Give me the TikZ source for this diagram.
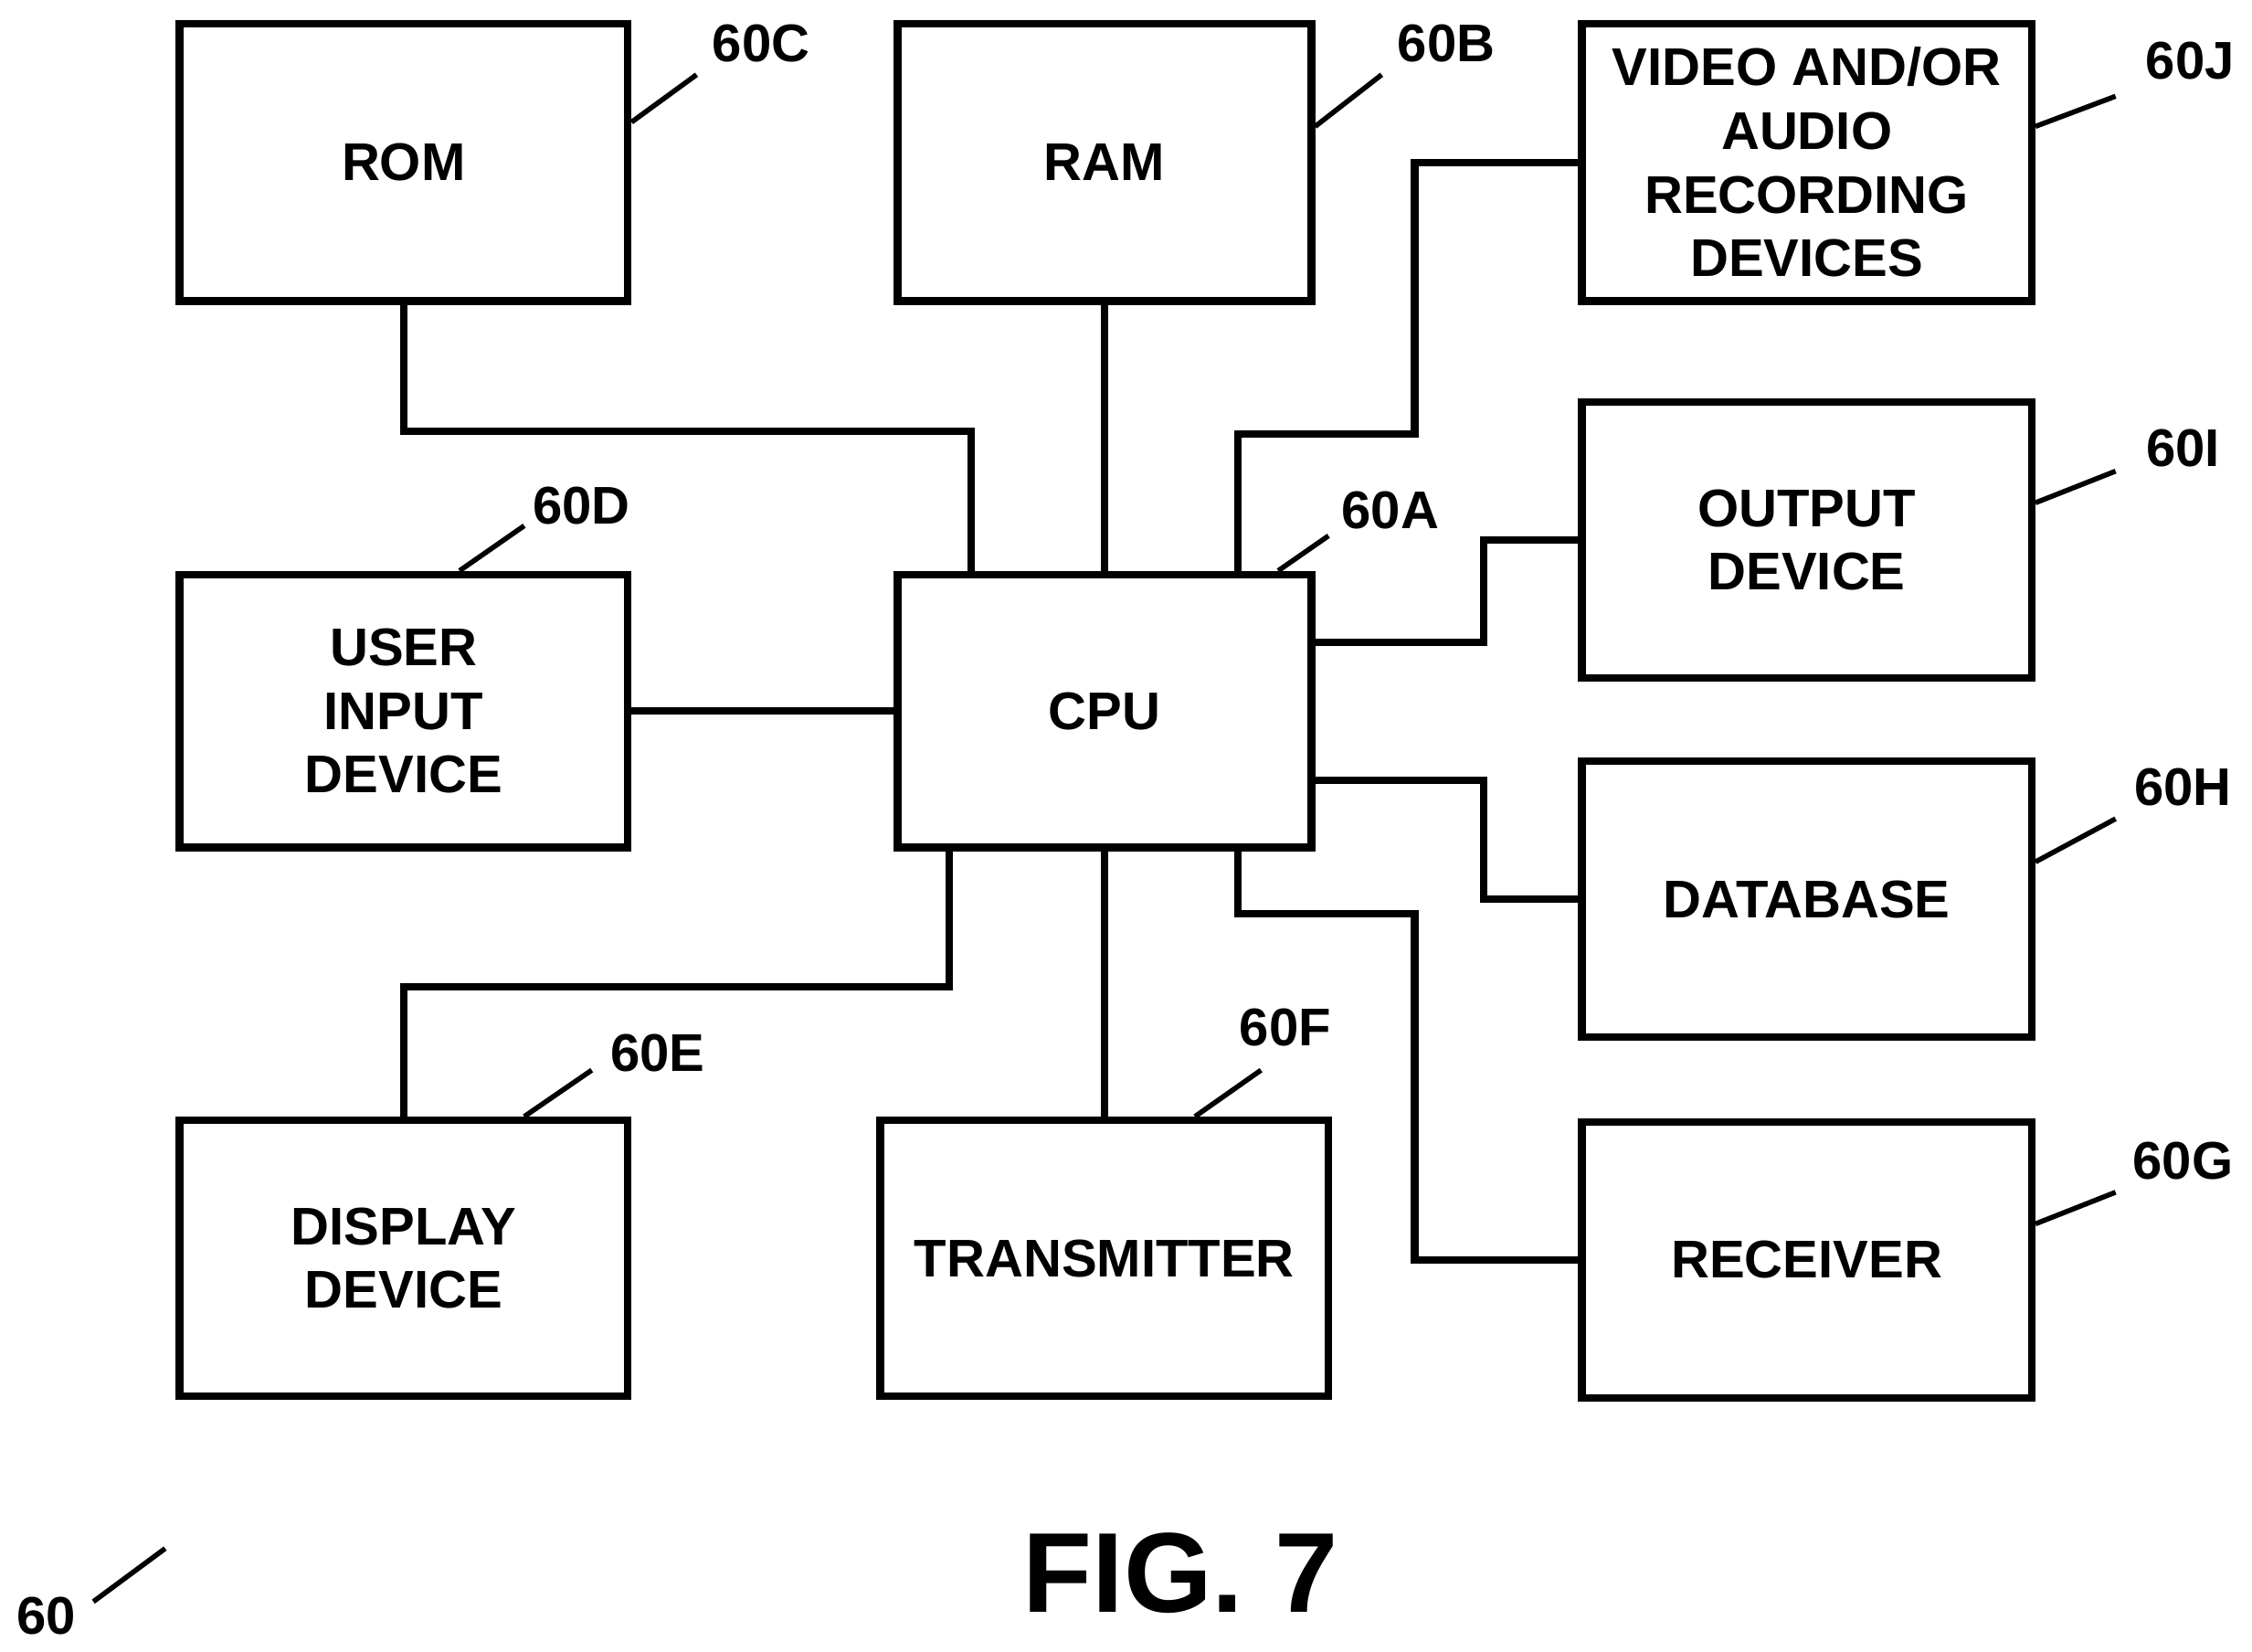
\documentclass[tikz,border=0pt]{standalone}
\usepackage{fontspec}
\setmainfont{Liberation Sans}
\usetikzlibrary{positioning}

\begin{document}
\begin{tikzpicture}[x=0.01cm, y=-0.01cm,
  box/.style={draw, line width=1.5pt, align=center, font=\bfseries\fontsize{10.5}{12.6}\selectfont, inner sep=0pt},
  wire/.style={line width=1.5pt},
  lead/.style={line width=1pt},
  ref/.style={font=\bfseries\fontsize{10.5}{12}\selectfont, inner sep=1pt}]
\useasboundingbox (0,0) rectangle (1568,1150);
% boxes
\node[box, minimum width=3.12cm, minimum height=1.93cm] (rom) at (281,113) {ROM};
\node[box, minimum width=2.88cm, minimum height=1.93cm] (ram) at (769,113) {RAM};
\node[box, minimum width=3.13cm, minimum height=1.93cm] (vid) at (1258,113) {VIDEO AND/OR\\AUDIO\\RECORDING\\DEVICES};
\node[box, minimum width=3.13cm, minimum height=1.92cm] (out) at (1258,376) {OUTPUT\\DEVICE};
\node[box, minimum width=3.13cm, minimum height=1.92cm] (db) at (1258,626) {DATABASE};
\node[box, minimum width=3.13cm, minimum height=1.92cm] (rcv) at (1258,877) {RECEIVER};
\node[box, minimum width=3.12cm, minimum height=1.90cm] (uid) at (281,495) {USER\\INPUT\\DEVICE};
\node[box, minimum width=2.88cm, minimum height=1.90cm] (cpu) at (769,495) {CPU};
\node[box, minimum width=3.12cm, minimum height=1.92cm] (disp) at (281,876) {DISPLAY\\DEVICE};
\node[box, minimum width=3.12cm, minimum height=1.92cm] (tx) at (769,876) {TRANSMITTER};
% connectors
\draw[wire] (rom.south) |- (676,300) -- (676,300 |- cpu.north);
\draw[wire] (ram) -- (cpu);
\draw[wire] (862,0 |- cpu.north) |- (985,302) |- (vid.west);
\draw[wire] (cpu.east |- 0,447) -| (1033,376) -- (out.west);
\draw[wire] (cpu.east |- 0,543) -| (1033,626) -- (db.west);
\draw[wire] (862,0 |- cpu.south) |- (985,636) |- (rcv.west);
\draw[wire] (uid) -- (cpu);
\draw[wire] (661,0 |- cpu.south) |- (disp.north |- 0,687) -- (disp.north);
\draw[wire] (cpu) -- (tx);
% reference numerals
\node[ref] (l60c) at (530,30) {60C};
\draw[lead] (rom.east |- 0,85) -- (485,52);
\node[ref] (l60b) at (1007,30) {60B};
\draw[lead] (ram.east |- 0,88) -- (962,52);
\node[ref] (l60j) at (1525,42) {60J};
\draw[lead] (vid.east |- 0,88) -- (1473,67);
\node[ref] (l60i) at (1520,312) {60I};
\draw[lead] (out.east |- 0,350) -- (1473,328);
\node[ref] (l60h) at (1520,548) {60H};
\draw[lead] (db.east |- 0,600) -- (1473,570);
\node[ref] (l60g) at (1520,808) {60G};
\draw[lead] (rcv.east |- 0,852) -- (1473,830);
\node[ref] (l60d) at (405,352) {60D};
\draw[lead] (320,0 |- uid.north) -- (365,366);
\node[ref] (l60a) at (968,355) {60A};
\draw[lead] (890,0 |- cpu.north) -- (925,373);
\node[ref] (l60e) at (458,733) {60E};
\draw[lead] (365,0 |- disp.north) -- (412,745);
\node[ref] (l60f) at (895,715) {60F};
\draw[lead] (832,0 |- tx.north) -- (878,745);
\node[ref] (l60) at (32,1125) {60};
\coordinate (t60) at (115,1078);
\draw[lead] (65,1115) -- (t60);
\node[font=\bfseries\fontsize{22.5}{26}\selectfont] (fig) at (822,1095) {FIG. 7};
\end{tikzpicture}
\end{document}
